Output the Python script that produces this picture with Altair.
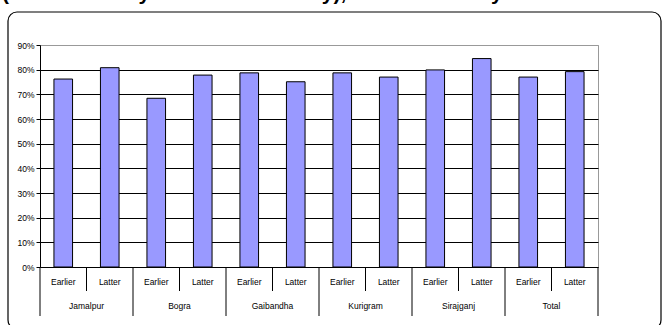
import altair as alt
import pandas as pd

# Share of respondents by district, earlier vs. latter survey round
regions = ["Jamalpur", "Bogra", "Gaibandha", "Kurigram", "Sirajganj", "Total"]
periods = ["Earlier", "Latter"]
earlier = [0.762, 0.684, 0.787, 0.787, 0.799, 0.770]
latter = [0.808, 0.778, 0.751, 0.770, 0.845, 0.792]
y_ticks = [0, 0.1, 0.2, 0.3, 0.4, 0.5, 0.6, 0.7, 0.8, 0.9]
title_text = "(Earlier Survey and Latter Survey), at Each Survey"

rows = []
for r, e, l in zip(regions, earlier, latter):
    for p, v in zip(periods, (e, l)):
        rows.append({"region": r, "period": p, "key": f"{r}|{p}", "share": v})
df = pd.DataFrame(rows)
keys = list(df["key"])

W, H = 558, 222
FONT = "Liberation Sans Narrow, Arial Narrow, Liberation Sans, sans-serif"

xscale = alt.Scale(domain=keys, paddingInner=0, paddingOuter=0)
yscale = alt.Scale(domain=[0, 0.9], nice=False)

base = alt.Chart(df)

bars = base.mark_bar(
    width=alt.RelativeBandSize(0.4), fill="#9999FF", stroke="black", strokeWidth=1
).encode(
    x=alt.X("key:N", scale=xscale, axis=None, sort=keys),
    y=alt.Y(
        "share:Q",
        scale=yscale,
        axis=alt.Axis(
            values=y_ticks,
            format="%",
            title=None,
            grid=True,
            gridColor={"condition": {"test": "datum.value >= 0.9", "value": "#999999"}, "value": "black"},
            gridWidth=1,
            domainColor="black",
            tickColor="black",
            tickSize=4,
            labelFont=FONT,
            labelFontSize=8.5,
            labelColor="black",
            labelPadding=2,
        ),
    ),
)

# separators below the axis: long ones between districts, short ones between rounds
group_sep = base.transform_filter(alt.datum.period == "Earlier").mark_rule(
    color="black", strokeWidth=1
).encode(
    x=alt.X("key:N", scale=xscale, axis=None, sort=keys, bandPosition=0),
    y=alt.value(H),
    y2=alt.value(H + 49),
)
end_sep = base.transform_filter(alt.datum.key == keys[-1]).mark_rule(
    color="black", strokeWidth=1
).encode(
    x=alt.X("key:N", scale=xscale, axis=None, sort=keys, bandPosition=1),
    y=alt.value(H),
    y2=alt.value(H + 49),
)
period_sep = base.transform_filter(alt.datum.period == "Latter").mark_rule(
    color="black", strokeWidth=1
).encode(
    x=alt.X("key:N", scale=xscale, axis=None, sort=keys, bandPosition=0),
    y=alt.value(H),
    y2=alt.value(H + 24),
)

period_labels = base.mark_text(
    font=FONT, fontSize=8.5, color="black", baseline="middle"
).encode(
    x=alt.X("key:N", scale=xscale, axis=None, sort=keys),
    y=alt.value(H + 15),
    text="period:N",
)
region_labels = base.transform_filter(alt.datum.period == "Latter").mark_text(
    font=FONT, fontSize=8.5, color="black", baseline="middle"
).encode(
    x=alt.X("key:N", scale=xscale, axis=None, sort=keys, bandPosition=0),
    y=alt.value(H + 39),
    text="region:N",
)

frame = alt.Chart(pd.DataFrame({"f": [0]})).mark_rect(
    fill=None, stroke="black", strokeWidth=1.2, cornerRadius=9
).encode(
    x=alt.value(-32), x2=alt.value(621), y=alt.value(-33), y2=alt.value(284)
)

heading = alt.Chart(pd.DataFrame({"t": [title_text]})).mark_text(
    font="Liberation Sans", fontWeight="bold", fontSize=21, align="left",
    baseline="alphabetic", color="black"
).encode(x=alt.value(-38), y=alt.value(-45), text="t:N")

chart = alt.layer(
    frame, bars, group_sep, end_sep, period_sep, period_labels, region_labels, heading
).properties(
    width=W,
    height=H,
    autosize=alt.AutoSizeParams(type="none"),
    padding={"left": 40, "top": 45, "right": 65, "bottom": 58},
    background="white",
).configure_view(stroke="#999999", strokeWidth=1)

chart.save("out.html", embed_options={"renderer": "svg", "actions": False})
